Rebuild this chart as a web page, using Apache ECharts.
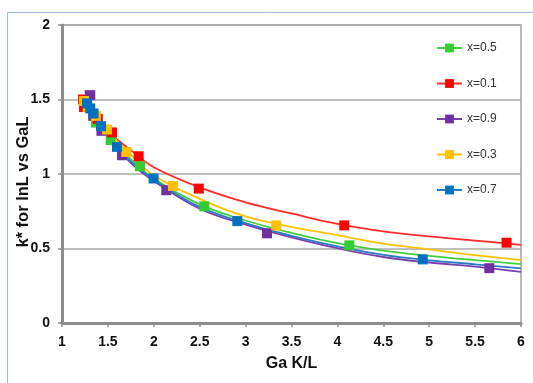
<!DOCTYPE html>
<html>
<head>
<meta charset="utf-8">
<script src="https://cdn.jsdelivr.net/npm/echarts@6/dist/echarts.min.js"></script>
<style>
  html, body { margin: 0; padding: 0; background: #fff; }
  #chart { width: 533px; height: 383px; }
</style>
</head>
<body>
<div id="chart"></div>
<script>
// legend order as in the workbook
const seriesNames = ['x=0.5', 'x=0.1', 'x=0.9', 'x=0.3', 'x=0.7'];

// measured points (Ga K/L, k*)
const gaX05 = [1.26, 1.37, 1.53, 1.85, 2.55, 4.13];
const kX05 = [1.47, 1.345, 1.228, 1.052, 0.783, 0.521];
const gaX01 = [1.23, 1.24, 1.39, 1.545, 1.835, 2.49, 4.075, 5.843];
const kX01 = [1.50, 1.45, 1.37, 1.279, 1.119, 0.902, 0.655, 0.539];
const gaX09 = [1.308, 1.34, 1.43, 1.654, 2.136, 3.233, 5.655];
const kX09 = [1.529, 1.39, 1.29, 1.126, 0.891, 0.602, 0.368];
const gaX03 = [1.24, 1.28, 1.37, 1.49, 1.70, 2.209, 3.334];
const kX03 = [1.49, 1.45, 1.39, 1.299, 1.148, 0.92, 0.655];
const gaX07 = [1.272, 1.308, 1.344, 1.425, 1.599, 1.998, 2.91, 4.93];
const kX07 = [1.474, 1.44, 1.406, 1.321, 1.182, 0.97, 0.684, 0.427];

// trend lines
const fitGa = [1.25, 1.5, 1.75, 2, 2.5, 3, 3.5, 4, 4.5, 5, 5.5, 6];
const fitX05 = [1.48, 1.265, 1.10, 0.969, 0.796, 0.688, 0.605, 0.536, 0.486, 0.451, 0.422, 0.395];
const fitX01 = [1.50, 1.29, 1.16, 1.045, 0.91, 0.81, 0.735, 0.665, 0.615, 0.581, 0.553, 0.525];
const fitX09 = [1.56, 1.255, 1.075, 0.953, 0.767, 0.66, 0.575, 0.502, 0.443, 0.406, 0.378, 0.343];
const fitX03 = [1.49, 1.29, 1.13, 0.99, 0.833, 0.715, 0.645, 0.59, 0.533, 0.494, 0.455, 0.422];
const fitX07 = [1.48, 1.26, 1.085, 0.962, 0.779, 0.67, 0.585, 0.515, 0.457, 0.421, 0.394, 0.366];

const gaList = [gaX05, gaX01, gaX09, gaX03, gaX07];
const kList = [kX05, kX01, kX09, kX03, kX07];
const fitList = [fitX05, fitX01, fitX09, fitX03, fitX07];
const markColors = ['#33cc33', '#ff0000', '#7030a0', '#ffc000', '#0070c0'];
const lineColors = ['#3fcf3f', '#ff2a2a', '#7b40aa', '#ffc000', '#2b7bc4'];

const chart = echarts.init(document.getElementById('chart'));

const curves = seriesNames.map((name, i) => ({
  name: name,
  type: 'line',
  data: fitGa.map((g, j) => [g, fitList[i][j]]),
  smooth: 0.4,
  symbol: 'rect',
  showSymbol: false,
  itemStyle: { color: markColors[i] },
  lineStyle: { color: lineColors[i], width: 1.8 },
  emphasis: { disabled: true },
  z: 2,
}));

const points = seriesNames.map((name, i) => ({
  name: name + ' pts',
  type: 'scatter',
  data: gaList[i].map((g, j) => [g, kList[i][j]]),
  symbol: 'rect',
  symbolSize: 10,
  itemStyle: { color: markColors[i], opacity: 1 },
  emphasis: { disabled: true },
  z: 3,
}));

chart.setOption({
  animation: false,
  graphic: [{
    type: 'rect',
    shape: { x: 7.5, y: 12.5, width: 600, height: 500 },
    style: { fill: 'none', stroke: '#9dbbe0', lineWidth: 1 },
    silent: true,
  }],
  grid: {
    left: 62,
    right: 12,
    top: 25,
    bottom: 60,
    outerBoundsMode: 'none',
    show: true,
    borderColor: '#a0a0a0',
    borderWidth: 1.5,
  },
  legend: {
    data: seriesNames,
    orient: 'vertical',
    left: 431,
    top: 37,
    itemWidth: 25,
    itemHeight: 11,
    itemGap: 23.5,
    textStyle: {
      fontFamily: 'Liberation Sans',
      fontSize: 12,
      color: '#333',
      lineHeight: 11,
    },
  },
  xAxis: {
    type: 'value',
    min: 1,
    max: 6,
    interval: 0.5,
    name: 'Ga K/L',
    nameLocation: 'middle',
    nameGap: 33,
    nameMoveOverlap: false,
    nameTextStyle: {
      fontFamily: 'Liberation Sans',
      fontWeight: 'bold',
      fontSize: 16,
      color: '#111',
    },
    axisLine: { lineStyle: { color: '#8c8c8c', width: 3 } },
    axisTick: { show: true, length: 4, lineStyle: { color: '#8c8c8c', width: 1.5 } },
    axisLabel: {
      margin: 12,
      fontFamily: 'Liberation Sans',
      fontWeight: 'bold',
      fontSize: 14,
      color: '#111',
    },
    splitLine: { show: false },
  },
  yAxis: {
    type: 'value',
    min: 0,
    max: 2,
    interval: 0.5,
    name: 'k* for lnL vs GaL',
    nameLocation: 'middle',
    nameGap: 30,
    nameMoveOverlap: false,
    nameTextStyle: {
      fontFamily: 'Liberation Sans',
      fontWeight: 'bold',
      fontSize: 16.5,
      color: '#111',
      padding: [0, 16, 0, 0],
    },
    axisLine: { show: true, lineStyle: { color: '#8c8c8c', width: 3 } },
    axisTick: { show: true, length: 4, lineStyle: { color: '#8c8c8c', width: 1.5 } },
    axisLabel: {
      margin: 12,
      fontFamily: 'Liberation Sans',
      fontWeight: 'bold',
      fontSize: 14,
      color: '#111',
    },
    splitLine: { lineStyle: { color: '#aaaaaa', width: 1.5 } },
  },
  series: curves.concat(points),
});
</script>
</body>
</html>
